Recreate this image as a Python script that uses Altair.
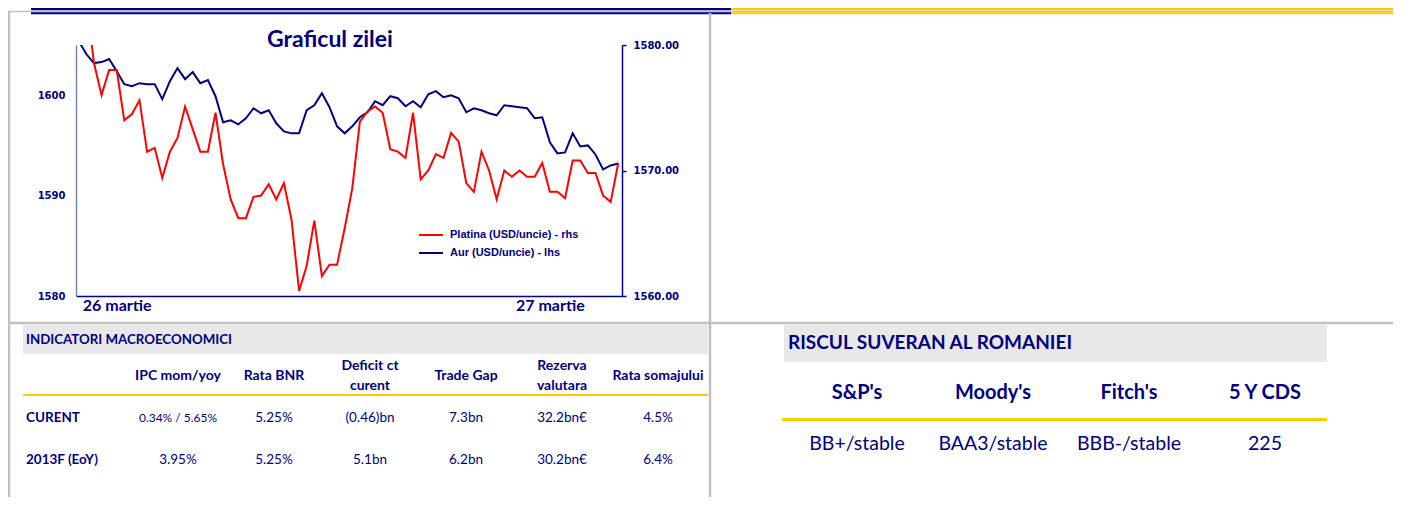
import altair as alt
import pandas as pd

# ---------------- data ----------------
idx = list(range(1, 73))
aur = [1605.4, 1604.1, 1603.2, 1603.3, 1603.6, 1602.4, 1601.1, 1600.9, 1601.2, 1601.1,
       1601.1, 1599.6, 1601.4, 1602.7, 1601.6, 1602.3, 1601.2, 1601.5, 1599.9, 1597.3,
       1597.5, 1597.1, 1597.7, 1598.7, 1598.2, 1598.5, 1597.2, 1596.4, 1596.2, 1596.2,
       1598.5, 1599.0, 1600.2, 1598.8, 1596.9, 1596.2, 1596.9, 1597.8, 1598.3, 1599.4,
       1599.0, 1599.9, 1599.7, 1598.9, 1599.4, 1598.8, 1600.1, 1600.4, 1599.8, 1600.0,
       1599.7, 1598.3, 1598.7, 1598.5, 1598.2, 1598.0, 1599.0, 1598.9, 1598.8, 1598.7,
       1597.7, 1597.8, 1595.3, 1594.2, 1594.3, 1596.2, 1594.9, 1595.0, 1594.1, 1592.6,
       1593.0, 1593.2]
platina = [1585.0, 1583.8, 1578.6, 1576.0, 1578.0, 1578.0, 1574.0, 1574.5, 1575.6, 1571.5,
           1571.8, 1569.4, 1571.5, 1572.6, 1575.1, 1573.3, 1571.5, 1571.5, 1574.6, 1570.5,
           1567.7, 1566.2, 1566.2, 1567.9, 1568.0, 1568.9, 1567.7, 1569.0, 1566.1, 1560.4,
           1562.4, 1566.0, 1561.6, 1562.5, 1562.5, 1565.4, 1568.6, 1573.9, 1574.7, 1575.1,
           1574.6, 1571.7, 1571.5, 1571.0, 1574.6, 1569.3, 1570.0, 1571.3, 1571.0, 1573.0,
           1572.3, 1569.0, 1568.3, 1571.5, 1570.0, 1567.7, 1570.0, 1569.5, 1570.0, 1569.5,
           1569.5, 1570.6, 1568.3, 1568.3, 1567.8, 1570.8, 1570.8, 1569.8, 1569.8, 1568.0,
           1567.5, 1570.6]
series_names = ["Platina (USD/uncie) - rhs", "Aur (USD/uncie) - lhs"]
series_colors = ["#ff0000", "#000080"]
day_tick_idx = [6, 63]
day_labels = ["26 martie", "27 martie"]
chart_title = "Graficul zilei"

macro_title = "INDICATORI MACROECONOMICI"
macro_cols = ["IPC mom/yoy", "Rata BNR", "Deficit ct\ncurent", "Trade Gap", "Rezerva\nvalutara", "Rata somajului"]
macro_rows = ["CURENT", "2013F (EoY)"]
macro_curent = ["0.34% / 5.65%", "5.25%", "(0.46)bn", "7.3bn", "32.2bn€", "4.5%"]
macro_2013 = ["3.95%", "5.25%", "5.1bn", "6.2bn", "30.2bn€", "6.4%"]

risk_title = "RISCUL SUVERAN AL ROMANIEI"
risk_cols = ["S&P's", "Moody's", "Fitch's", "5 Y CDS"]
risk_vals = ["BB+/stable", "BAA3/stable", "BBB-/stable", "225"]

# ---------------- styles ----------------
NAVY = "#000080"
GOLD = "#ffcc00"
BORDER = "#c0c0c0"
BAND = "#e8e8e8"
FONT = "Lato"
NUMFONT = "DejaVu Sans"

one = pd.DataFrame({"a": [0]})

lines_df = pd.DataFrame({
    "idx": idx + idx,
    "value": platina + aur,
    "series": [series_names[0]] * len(idx) + [series_names[1]] * len(idx),
})

x_scale = alt.Scale(domain=[0.645, 72.49], nice=False, zero=False)
color = alt.Color(
    "series:N",
    scale=alt.Scale(domain=series_names, range=series_colors),
    legend=alt.Legend(title=None, orient="none", legendX=342, legendY=177, padding=0,
                      symbolType="stroke", symbolSize=576, symbolStrokeWidth=2,
                      rowPadding=-5, labelOffset=6, labelFont="Liberation Sans",
                      labelFontSize=11, labelFontWeight="bold", labelColor=NAVY),
)

aur_line = alt.Chart(lines_df).transform_filter(
    alt.datum.series == series_names[1]
).mark_line(clip=True, strokeWidth=2).encode(
    x=alt.X("idx:Q", scale=x_scale, title=None,
            axis=alt.Axis(values=day_tick_idx, grid=False, ticks=False, tickSize=0,
                          labelExpr=f"datum.value < 30 ? '{day_labels[0]}' : '{day_labels[1]}'",
                          labelFont=FONT, labelFontSize=16, labelFontWeight="bold",
                          labelColor=NAVY, labelPadding=1, labelFlush=False,
                          domainColor=NAVY, domainWidth=1.5)),
    y=alt.Y("value:Q", scale=alt.Scale(domain=[1580, 1605], nice=False, zero=False), title=None,
            axis=alt.Axis(orient="left", values=[1580, 1590, 1600], format="d", grid=False,
                          ticks=False, tickSize=0, labelPadding=11, labelFont=NUMFONT,
                          labelFontSize=10, labelFontWeight="bold", labelColor=NAVY,
                          domainColor="#7585a5", domainWidth=1.5, labelFlush=False)),
    color=color,
)

plat_line = alt.Chart(lines_df).transform_filter(
    alt.datum.series == series_names[0]
).mark_line(clip=True, strokeWidth=2).encode(
    x=alt.X("idx:Q", scale=x_scale, axis=None),
    y=alt.Y("value:Q", scale=alt.Scale(domain=[1560, 1580], nice=False, zero=False), title=None,
            axis=alt.Axis(orient="right", values=[1560, 1570, 1580], format=".2f", grid=False,
                          ticks=True, tickSize=4, tickColor=NAVY, tickWidth=1.5, labelPadding=7,
                          labelFont=NUMFONT, labelFontSize=10, labelFontWeight="bold",
                          labelColor=NAVY, domainColor=NAVY, domainWidth=1.5, labelFlush=False)),
    color=color,
)

title_txt = alt.Chart(one).mark_text(
    text=chart_title, font=FONT, fontSize=23, fontWeight="bold", color=NAVY,
    align="center", baseline="alphabetic"
).encode(x=alt.value(254), y=alt.value(2))


def hrule(x1, x2, y, col, w):
    return alt.Chart(one).mark_rule(color=col, strokeWidth=w).encode(
        x=alt.value(x1), x2=alt.value(x2), y=alt.value(y))


def vrule(x, y1, y2, col, w):
    return alt.Chart(one).mark_rule(color=col, strokeWidth=w).encode(
        x=alt.value(x), y=alt.value(y1), y2=alt.value(y2))


def band(x1, x2, y1, y2):
    return alt.Chart(one).mark_rect(color=BAND).encode(
        x=alt.value(x1), x2=alt.value(x2), y=alt.value(y1), y2=alt.value(y2))


# frame lines (view coords = page - (76, 45))
frame = [
    hrule(-68, 1325, -33.5, BORDER, 1.5),
    hrule(-45, 655, -35.8, NAVY, 2.3),
    hrule(-45, 655, -31.7, NAVY, 2),
    hrule(655, 1325, -35.8, GOLD, 2.3),
    hrule(655, 1325, -31.7, GOLD, 2),
    vrule(-67, -34, 460, BORDER, 2.5),
    vrule(634, -32, 460, BORDER, 2.5),
    hrule(-67, 1325, 278, BORDER, 2.5),
]

# ---------------- macro table ----------------
mkeys = [f"c{i}" for i in range(len(macro_cols))]
mx = alt.X("key:N", scale=alt.Scale(type="point", domain=mkeys, range=[102, 582], padding=0), axis=None)
my = alt.Y("row:N", scale=alt.Scale(type="point", domain=macro_rows, range=[373, 415], padding=0), axis=None)

macro_band = band(-53, 632, 280, 309)
macro_title_t = alt.Chart(one).mark_text(
    text=macro_title, font=FONT, fontSize=13.3, fontWeight="bold", color=NAVY,
    align="left", baseline="middle").encode(x=alt.value(-50), y=alt.value(295))
macro_gold = hrule(-53, 632, 350, GOLD, 2)

mh_df = pd.DataFrame({"key": mkeys, "label": macro_cols})
head_style = dict(font=FONT, fontSize=14, fontWeight="bold", color=NAVY, align="center",
                  baseline="middle", lineBreak="\n", lineHeight=20)
macro_head1 = alt.Chart(mh_df).transform_filter(
    "indexof(datum.label, '\\n') < 0").mark_text(**head_style).encode(
    x=mx, y=alt.value(331), text="label:N")
macro_head2 = alt.Chart(mh_df).transform_filter(
    "indexof(datum.label, '\\n') >= 0").mark_text(**head_style).encode(
    x=mx, y=alt.value(321), text="label:N")

mv_df = pd.DataFrame({
    "key": mkeys + mkeys,
    "row": [macro_rows[0]] * len(mkeys) + [macro_rows[1]] * len(mkeys),
    "val": macro_curent + macro_2013,
})
macro_vals = alt.Chart(mv_df).mark_text(
    font=FONT, color=NAVY, align="center", baseline="middle").encode(
    x=mx, y=my, text="val:N",
    size=alt.condition("datum.key == 'c0' && datum.row == 'CURENT'", alt.value(12), alt.value(13.5)))

mr_df = pd.DataFrame({"row": macro_rows})
macro_rowlab = alt.Chart(mr_df).mark_text(
    font=FONT, fontSize=13.5, fontWeight="bold", color=NAVY, align="left",
    baseline="middle").encode(x=alt.value(-50), y=my, text="row:N")

# ---------------- risk table ----------------
rkeys = [f"r{i}" for i in range(len(risk_cols))]
rx = alt.X("key:N", scale=alt.Scale(type="point", domain=rkeys, range=[781, 1189], padding=0), axis=None)
risk_band = band(708, 1251, 280, 317)
risk_title_t = alt.Chart(one).mark_text(
    text=risk_title, font=FONT, fontSize=19, fontWeight="bold", color=NAVY,
    align="left", baseline="middle").encode(x=alt.value(712), y=alt.value(298))
risk_gold = hrule(706, 1251, 374.5, GOLD, 3)
r_df = pd.DataFrame({"key": rkeys, "head": risk_cols, "val": risk_vals})
risk_head = alt.Chart(r_df).mark_text(
    font=FONT, fontSize=20, fontWeight="bold", color=NAVY, align="center",
    baseline="middle").encode(x=rx, y=alt.value(348), text="head:N")
risk_val = alt.Chart(r_df).mark_text(
    font=FONT, fontSize=19.5, color=NAVY, align="center",
    baseline="middle").encode(x=rx, y=alt.value(399), text="val:N")

chart = alt.layer(
    *frame, macro_band, risk_band, title_txt,
    aur_line, plat_line,
    macro_title_t, macro_gold, macro_head1, macro_head2, macro_vals, macro_rowlab,
    risk_title_t, risk_gold, risk_head, risk_val,
).resolve_scale(
    x="independent", y="independent"
).properties(
    width=546, height=251,
    autosize=alt.AutoSizeParams(type="none"),
    padding={"left": 68, "top": 37, "right": 771, "bottom": 201},
).configure_view(stroke=None)

chart.save("out.html", embed_options={"renderer": "svg", "actions": False})
